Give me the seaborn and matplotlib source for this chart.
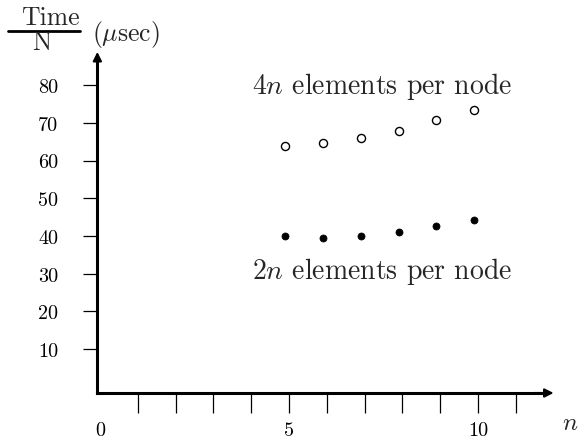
import matplotlib
matplotlib.use("Agg")
import matplotlib.pyplot as plt
from matplotlib.lines import Line2D
import seaborn as sns
import pandas as pd

# ---- data ----
n_pos = [4.9, 5.9, 6.9, 7.9, 8.9, 9.9]
time_4n = [63.9, 64.6, 65.9, 67.9, 70.7, 73.5]
time_2n = [40.1, 39.5, 40.1, 41.1, 42.5, 44.2]
x_ticks = list(range(0, 12))
x_tick_labels = ["0", "", "", "", "", "5", "", "", "", "", "10", ""]
y_ticks = [10, 20, 30, 40, 50, 60, 70, 80]
label_4n = r"4$n$ elements per node"
label_2n = r"2$n$ elements per node"

sns.set_style("white")
plt.rcParams["font.family"] = ["cmr10", "DejaVu Serif"]
plt.rcParams["mathtext.fontset"] = "cm"
plt.rcParams["axes.formatter.use_mathtext"] = True

W, H = 579, 439
fig = plt.figure(figsize=(W / 100, H / 100), dpi=100)
ax = fig.add_axes([0, 0, 1, 1])
ax.set_facecolor("none")

df4 = pd.DataFrame({"n": n_pos, "t": time_4n})
df2 = pd.DataFrame({"n": n_pos, "t": time_2n})
sns.scatterplot(data=df4, x="n", y="t", ax=ax, s=34, marker="o",
                facecolor="white", edgecolor="black", linewidth=1.0, zorder=3)
sns.scatterplot(data=df2, x="n", y="t", ax=ax, s=26, marker="o",
                color="black", edgecolor="black", linewidth=0.5, zorder=3)

x0_px, sx = 100.0, 37.8
y0_px, sy = 387.7, 3.77
ax.set_xlim(-x0_px / sx, (W - x0_px) / sx)
ax.set_ylim((y0_px - H) / sy, y0_px / sy)

yaxis_x = -0.07
xaxis_y = -1.67
for s in ["top", "right"]:
    ax.spines[s].set_visible(False)
ax.spines["left"].set_position(("data", yaxis_x))
ax.spines["bottom"].set_position(("data", xaxis_y))
ax.spines["left"].set_bounds(xaxis_y, 86)
ax.spines["bottom"].set_bounds(yaxis_x, 11.7)
for s in ["left", "bottom"]:
    ax.spines[s].set_linewidth(2.2)
    ax.spines[s].set_color("black")
    ax.spines[s].set_capstyle("projecting")

# arrow heads
ax.annotate("", xy=(12.0, xaxis_y), xytext=(11.5, xaxis_y),
            arrowprops=dict(arrowstyle="-|>", color="black", lw=1.5,
                            mutation_scale=13, shrinkA=0, shrinkB=0))
ax.annotate("", xy=(yaxis_x, 88.8), xytext=(yaxis_x, 84),
            arrowprops=dict(arrowstyle="-|>", color="black", lw=1.5,
                            mutation_scale=13, shrinkA=0, shrinkB=0))

ax.set_xticks(x_ticks)
ax.set_xticklabels(x_tick_labels)
ax.set_yticks(y_ticks)
ax.set_yticklabels([str(v) for v in y_ticks])
ax.tick_params(axis="x", direction="out", length=14.4, width=0.9, pad=6,
               labelsize=14.5, colors="black", bottom=True)
ax.tick_params(axis="y", direction="out", length=10, width=0.9, pad=18,
               labelsize=14.5, colors="black", left=True)
ax.xaxis.get_major_ticks()[0].tick1line.set_visible(False)
ax.set_xlabel("")
ax.set_ylabel("")

ax.text(4.02, 80, label_4n, ha="left", va="center", fontsize=20)
ax.text(4.02, 30.7, label_2n, ha="left", va="center", fontsize=20)


def fx(px):
    return px / W


def fy(py):
    return 1 - py / H


# x axis name
fig.text(fx(570), fy(430), r"$n$", ha="center", va="baseline", fontsize=18)

# y axis name: Time / N (usec)
fig.text(fx(50), fy(25), "Time", ha="center", va="baseline", fontsize=18.5)
fig.text(fx(42), fy(50), "N", ha="center", va="baseline", fontsize=18.5)
fig.add_artist(Line2D([fx(8), fx(80)], [fy(32), fy(32)], color="black",
                      lw=2.0, transform=fig.transFigure))
fig.text(fx(92), fy(35), r"($\mu$sec)", ha="left", va="center",
         fontsize=18.5)

fig.savefig("out.png", dpi=100)
